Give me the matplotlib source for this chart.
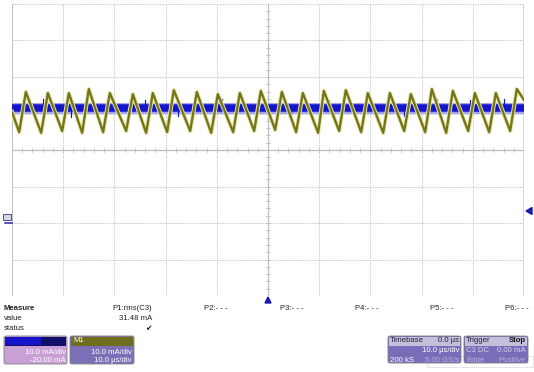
import matplotlib
matplotlib.use("Agg")
import matplotlib.pyplot as plt
from matplotlib.patches import Rectangle, FancyBboxPatch, Polygon
import numpy as np

plt.rcParams['font.family'] = ['Liberation Sans', 'DejaVu Sans']

# ---------------- data (read from the screen) ----------------
# time in us (10 us/div, 10 divisions), value in mA relative to screen centre (10 mA/div)
m1_peak_t = [-47.3, -43.0, -38.9, -35.0, -30.9, -26.4, -22.5, -18.4, -13.9, -9.8, -5.5, -1.4,
             2.7, 6.8, 10.9, 15.2, 19.5, 23.8, 27.9, 32.0, 36.1, 40.4, 44.5, 48.6]
m1_peak_v = [15.9, 15.6, 15.6, 16.7, 15.6, 15.3, 15.6, 16.4, 15.9, 15.3, 15.6, 16.2,
             15.9, 15.6, 16.2, 16.4, 15.6, 15.6, 15.3, 16.7, 16.2, 15.6, 15.6, 16.7]
m1_trough_t = [-48.6, -44.3, -40.2, -36.3, -32.2, -27.7, -23.8, -19.7, -15.2, -11.1, -6.8, -2.7,
               1.4, 5.5, 9.8, 13.9, 18.2, 22.5, 26.6, 30.7, 34.8, 39.1, 43.2, 47.3]
m1_trough_v = [4.9, 4.7, 5.2, 4.7, 4.9, 5.2, 4.7, 4.9, 5.2, 4.7, 4.9, 5.2,
               5.5, 4.9, 4.7, 5.2, 4.9, 4.7, 5.2, 4.9, 4.7, 5.2, 4.9, 5.2]
m1_start = (-50.0, 10.4)
m1_end = (50.0, 13.7)

c3_level = 11.5          # mA on screen (blue trace, noisy band)
c3_spike_t = [-44.0, -38.5, -31.0, -24.0, -17.5, -9.0, -2.0, 4.5, 12.0, 19.0, 26.5, 33.0, 39.5, 46.0]
c3_spike_v = [13.9, 9.0, 14.2, 13.6, 9.3, 14.0, 13.8, 9.0, 13.7, 14.1, 9.2, 13.9, 13.6, 14.0]

measure_params = ["P1:rms(C3)", "P2:- - -", "P3:- - -", "P4:- - -", "P5:- - -", "P6:- - -"]
measure_x = [112, 204, 280, 355, 430, 505]
p1_value = "31.48 mA"

# ---------------- figure ----------------
W, H = 534, 372
fig = plt.figure(figsize=(W / 100, H / 100), dpi=100)
fig.patch.set_facecolor('white')

x0, x1, y0, y1 = 12, 524, 4, 296
ax = fig.add_axes([x0 / W, 1 - y1 / H, (x1 - x0) / W, (y1 - y0) / H])
ax.set_xlim(-50, 50)
ax.set_ylim(-40, 40)
ax.axis('off')

px = 0.72  # points per pixel
grid_c = '#cdcdcd'
for t in np.arange(-40, 50, 10):
    if t != 0:
        ax.plot([t, t], [-40, 40], color=grid_c, lw=1 * px, ls=(0, (1.5, 1)), zorder=1)
for v in np.arange(-30, 40, 10):
    if v != 0:
        ax.plot([-50, 50], [v, v], color=grid_c, lw=1 * px, ls=(0, (1.5, 1)), zorder=1)
# frame
ax.plot([-50, 50], [40, 40], color=grid_c, lw=1 * px, ls=(0, (1.5, 1)), zorder=1)
ax.plot([-50, 50], [-40, -40], color=grid_c, lw=1 * px, ls=(0, (1.5, 1)), zorder=1)
ax.plot([-50, -50], [-40, 40], color='#c0c0c0', lw=1 * px, zorder=1)
ax.plot([50, 50], [-40, 40], color='#d6d6d6', lw=3 * px, zorder=1)
# centre axes
ax.plot([0, 0], [-40, 40], color='#bcbcbc', lw=1.2 * px, zorder=1)
ax.plot([-50, 50], [0, 0], color='#bcbcbc', lw=1.2 * px, zorder=1)
for v in np.arange(-38, 40, 2):
    ax.plot([-0.4, 0.4], [v, v], color='#bcbcbc', lw=0.8 * px, zorder=1)
for t in np.arange(-48, 50, 2):
    ax.plot([t, t], [-0.55, 0.55], color='#bcbcbc', lw=0.8 * px, zorder=1)
# dotted rows at +-2.5 div
dot_t = [t for t in np.arange(-48, 50, 2) if t % 10 != 0]
for v in (25, -25):
    ax.scatter(dot_t, [v] * len(dot_t), s=0.4, color='#d0d0d0', marker='s', lw=0, zorder=1)

# blue trace C3
ax.plot([-50, 50], [c3_level, c3_level], color='#a4a4f2', lw=11 * px, solid_capstyle='butt', zorder=2)
ax.plot([-50, 50], [c3_level, c3_level], color='#1414cc', lw=7.5 * px, solid_capstyle='butt', zorder=3)
for t, v in zip(c3_spike_t, c3_spike_v):
    ax.plot([t, t], [c3_level, v], color='#1414cc', lw=1.2 * px, zorder=3)

# olive trace M1
pts = [m1_start]
pts += list(zip(m1_peak_t, m1_peak_v)) + list(zip(m1_trough_t, m1_trough_v))
pts.append(m1_end)
pts.sort(key=lambda p: p[0])
mt = [p[0] for p in pts]
mv = [p[1] for p in pts]
ax.plot(mt, mv, color='#e8e8a8', lw=4.2 * px, zorder=4, solid_joinstyle='round')
ax.plot(mt, mv, color='#74741c', lw=2.3 * px, zorder=5, solid_joinstyle='round')

# ---------------- overlay in pixel coordinates ----------------
ov = fig.add_axes([0, 0, 1, 1])
ov.set_xlim(0, W)
ov.set_ylim(H, 0)
ov.axis('off')

# markers
ov.add_patch(Polygon([[265, 303], [271, 303], [268, 297]], closed=True, color='#1a1ab0', zorder=5))
ov.add_patch(Polygon([[526, 211], [532, 207.5], [532, 214.5]], closed=True, color='#1a1ab0', zorder=5))
ov.add_patch(Rectangle((3, 214), 8, 6, facecolor='#d8d8ec', edgecolor='#505080', lw=0.7, zorder=5))
ov.plot([5, 12], [222.5, 222.5], color='#2020b0', lw=1.5 * px, zorder=5)

fs = 5.6
tc = '#222222'
ov.text(4, 309, "Measure", fontsize=fs, fontweight='bold', color=tc, va='center', ha='left')
ov.text(4, 319, "value", fontsize=fs, color=tc, va='center', ha='left')
ov.text(4, 329, "status", fontsize=fs, color=tc, va='center', ha='left')
for lab, xx in zip(measure_params, measure_x):
    ov.text(xx, 309, lab, fontsize=fs, color=tc, va='center', ha='left')
ov.text(152, 319, p1_value, fontsize=fs, color=tc, va='center', ha='right')
ov.text(148, 329, "\u2714", fontsize=fs, color=tc, va='center', ha='center', family='DejaVu Sans')


def box(xa, xb, ya, yb, head_c, body_c, split=345):
    ov.add_patch(FancyBboxPatch((xa, ya), xb - xa, yb - ya, boxstyle='round,pad=0,rounding_size=2',
                                facecolor=body_c, edgecolor='#808080', lw=0.6, zorder=2))
    ov.add_patch(Rectangle((xa + 0.6, ya + 0.6), xb - xa - 1.2, split - ya, facecolor=head_c,
                           edgecolor='none', zorder=3))


# C3 box
box(4, 67, 336, 364, '#10106a', '#c9a0d6')
ov.add_patch(Rectangle((5, 337), 36, 8, facecolor='#1414c8', edgecolor='none', zorder=4))
ov.text(66, 352, "10.0 mA/div", fontsize=fs, color='white', va='center', ha='right', zorder=5)
ov.text(66, 361, "-20.00 mA", fontsize=fs, color='white', va='center', ha='right', zorder=5)
# M1 box
box(70, 134, 336, 364, '#6e6e1c', '#7b70b8')
ov.text(73, 340.5, "M1", fontsize=fs, color='white', va='center', ha='left', zorder=5)
ov.text(132, 352, "10.0 mA/div", fontsize=fs, color='white', va='center', ha='right', zorder=5)
ov.text(132, 361, "10.0 \u00b5s/div", fontsize=fs, color='white', va='center', ha='right', zorder=5)
# Timebase box
box(388, 461, 336, 363, '#c6bfdc', '#7a6cb8')
ov.text(390, 340.5, "Timebase", fontsize=fs, color='#222233', va='center', ha='left', zorder=5)
ov.text(459, 340.5, "0.0 \u00b5s", fontsize=fs, color='#222233', va='center', ha='right', zorder=5)
ov.text(459, 351, "10.0 \u00b5s/div", fontsize=fs, color='white', va='center', ha='right', zorder=5)
ov.text(390, 360, "200 kS", fontsize=fs, color='white', va='center', ha='left', zorder=5)
ov.text(459, 360, "5.00 GS/s", fontsize=fs, color='#b8b0e0', va='center', ha='right', zorder=5)
# Trigger box
box(464, 528, 336, 363, '#c6bfdc', '#7a6cb8')
ov.text(466, 340.5, "Trigger", fontsize=fs, color='#222233', va='center', ha='left', zorder=5)
ov.text(526, 340.5, "Stop", fontsize=fs, fontweight='bold', color='#111111', va='center', ha='right', zorder=5)
ov.text(466, 351, "C3 DC", fontsize=fs, color='#d8d0f0', va='center', ha='left', zorder=5)
ov.text(526, 351, "0.00 mA", fontsize=fs, color='#d8d0f0', va='center', ha='right', zorder=5)
ov.text(466, 360, "Edge", fontsize=fs, color='#b8b0e0', va='center', ha='left', zorder=5)
ov.text(526, 360, "Positive", fontsize=fs, color='#b8b0e0', va='center', ha='right', zorder=5)
ov.add_patch(Rectangle((427, 356), 106, 11, facecolor='none', edgecolor='#e0e0e0', lw=0.6, zorder=1))

fig.savefig("out.png", dpi=100, facecolor='white')
